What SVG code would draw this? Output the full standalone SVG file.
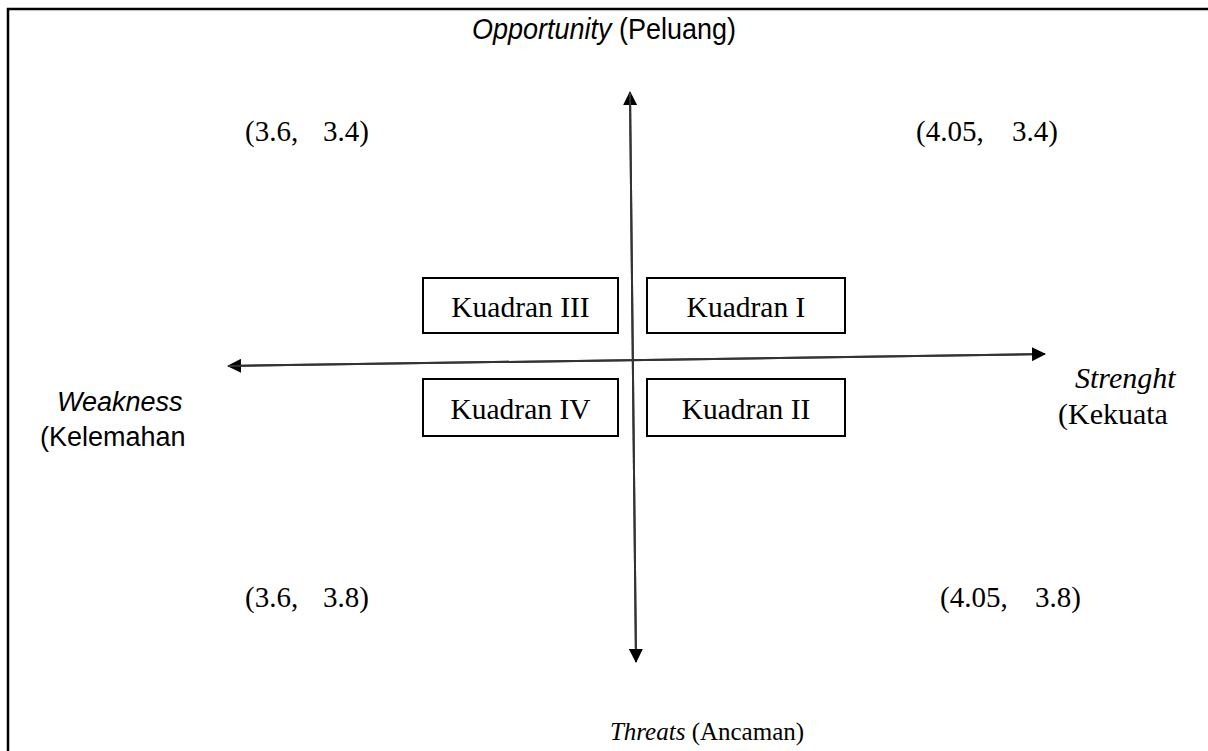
<svg xmlns="http://www.w3.org/2000/svg" width="1208" height="751" viewBox="0 0 1208 751">
<style>
.serif{font-family:"Liberation Serif","Times New Roman",serif;fill:#000}
.sans{font-family:"Liberation Sans",Arial,sans-serif;fill:#000}
.box{fill:#fff;stroke:#000;stroke-width:2}
.axis{stroke:#333;stroke-width:2;fill:none}
.border{stroke:#000;stroke-width:2.5;fill:none}
</style>
<defs>
<marker id="ah" viewBox="0 0 14 14" refX="13" refY="7" markerWidth="14" markerHeight="14" markerUnits="userSpaceOnUse" orient="auto">
<path d="M0,0 L14,7 L0,14 Z" fill="#000"/>
</marker>
</defs>
<rect width="1208" height="751" fill="#fff"/>
<path class="border" d="M8,751 L8,9 L1208,9"/>
<g id="connectors">
<line class="axis" x1="636" y1="662" x2="630" y2="92" marker-end="url(#ah)"/>
<line class="axis" x1="630" y1="92" x2="636" y2="662" marker-end="url(#ah)"/>
<line class="axis" x1="1045" y1="354" x2="228" y2="366" marker-end="url(#ah)"/>
<line class="axis" x1="228" y1="366" x2="1045" y2="354" marker-end="url(#ah)"/>
</g>
<g id="q3"><rect class="box" x="423" y="278" width="195" height="55"/><text class="serif" x="520.5" y="317" font-size="29.5" text-anchor="middle">Kuadran III</text></g>
<g id="q1"><rect class="box" x="647" y="278" width="198" height="55"/><text class="serif" x="746" y="317" font-size="29.5" text-anchor="middle">Kuadran I</text></g>
<g id="q4"><rect class="box" x="423" y="379" width="195" height="57"/><text class="serif" x="520.5" y="419" font-size="29.5" text-anchor="middle">Kuadran IV</text></g>
<g id="q2"><rect class="box" x="647" y="379" width="198" height="57"/><text class="serif" x="746" y="419" font-size="29.5" text-anchor="middle">Kuadran II</text></g>
<g id="opportunity"><text class="sans" x="0" y="0" font-size="29" text-anchor="middle" transform="translate(604,39) scale(0.93,1)"><tspan font-style="italic">Opportunity</tspan> (Peluang)</text></g>
<g id="weakness"><text class="sans" x="57" y="411" font-size="27" font-style="italic">Weakness</text><text class="sans" x="40" y="446" font-size="27">(Kelemahan</text></g>
<g id="strength"><text class="serif" x="1075" y="388" font-size="30" font-style="italic">Strenght</text><text class="serif" x="1058" y="424" font-size="30">(Kekuata</text></g>
<g id="threats"><text class="serif" x="707" y="740" font-size="25" text-anchor="middle"><tspan font-style="italic">Threats</tspan> (Ancaman)</text></g>
<g id="c1"><text class="serif" x="245" y="141" font-size="29">(3.6,<tspan x="323">3.4)</tspan></text></g>
<g id="c2"><text class="serif" x="916" y="141" font-size="29">(4.05,<tspan x="1012">3.4)</tspan></text></g>
<g id="c3"><text class="serif" x="245" y="607" font-size="29">(3.6,<tspan x="323">3.8)</tspan></text></g>
<g id="c4"><text class="serif" x="940" y="607" font-size="29">(4.05,<tspan x="1035">3.8)</tspan></text></g>
</svg>
